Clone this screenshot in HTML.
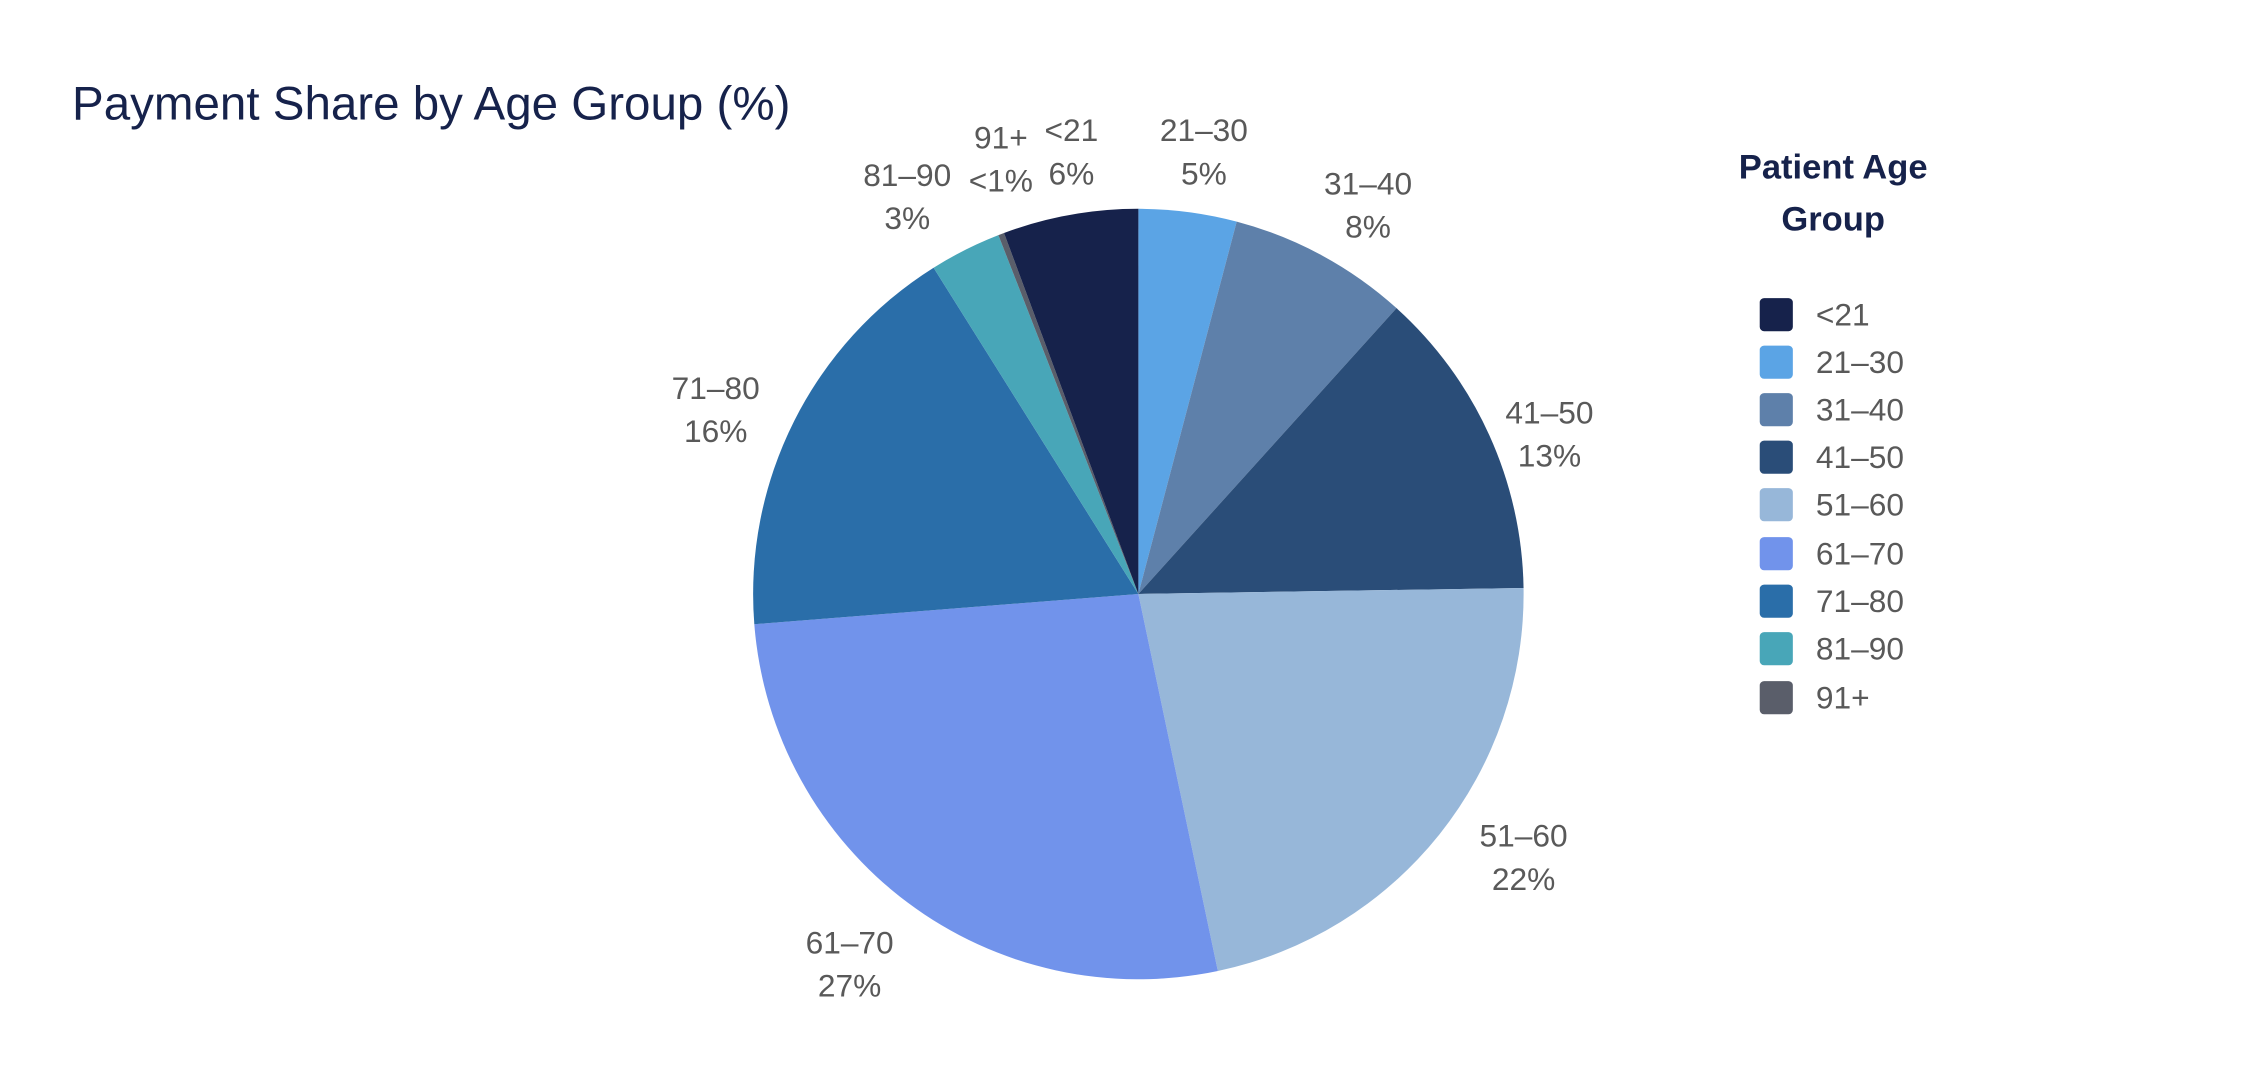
<!DOCTYPE html>
<html><head><meta charset="utf-8"><style>
html,body{margin:0;padding:0;background:#fff;}
svg{display:block;}
text{font-family:"Liberation Sans",sans-serif;}
.l{fill:#595959;font-size:22px;text-anchor:middle;}
.g{fill:#595959;font-size:22px;}
</style></head><body>
<svg width="2258" height="1080" viewBox="0 0 1568 750" xmlns="http://www.w3.org/2000/svg">
<rect width="1568" height="750" fill="#fff"/>
<text x="50" y="83" font-size="33" fill="#16224b">Payment Share by Age Group (%)</text>
<g>
<path d="M790.5,412.5 L790.5,145 A267.5,267.5 0 0 1 858.8,153.9 Z" fill="#5ba4e5"/>
<path d="M790.5,412.5 L858.8,153.9 A267.5,267.5 0 0 1 969.8,214.0 Z" fill="#5e80aa"/>
<path d="M790.5,412.5 L969.8,214.0 A267.5,267.5 0 0 1 1058,408.3 Z" fill="#2a4d78"/>
<path d="M790.5,412.5 L1058,408.3 A267.5,267.5 0 0 1 845.7,674.3 Z" fill="#97b7d9"/>
<path d="M790.5,412.5 L845.7,674.3 A267.5,267.5 0 0 1 523.8,433.5 Z" fill="#7193eb"/>
<path d="M790.5,412.5 L523.8,433.5 A267.5,267.5 0 0 1 648.3,185.9 Z" fill="#2a6ea9"/>
<path d="M790.5,412.5 L648.3,185.9 A267.5,267.5 0 0 1 693.3,163.3 Z" fill="#48a6b8"/>
<path d="M790.5,412.5 L693.3,163.3 A267.5,267.5 0 0 1 697.2,161.8 Z" fill="#5a5e6a"/>
<path d="M790.5,412.5 L697.2,161.8 A267.5,267.5 0 0 1 790.5,145 Z" fill="#16224b"/>
</g>
<text class="l" x="836" y="98">21–30</text><text class="l" x="836" y="128">5%</text>
<text class="l" x="950" y="135">31–40</text><text class="l" x="950" y="165">8%</text>
<text class="l" x="1076" y="294">41–50</text><text class="l" x="1076" y="324">13%</text>
<text class="l" x="1058" y="588">51–60</text><text class="l" x="1058" y="618">22%</text>
<text class="l" x="590" y="662">61–70</text><text class="l" x="590" y="692">27%</text>
<text class="l" x="497" y="277">71–80</text><text class="l" x="497" y="307">16%</text>
<text class="l" x="630" y="129">81–90</text><text class="l" x="630" y="159">3%</text>
<text class="l" x="695" y="103">91+</text><text class="l" x="695" y="133">&lt;1%</text>
<text class="l" x="744" y="98">&lt;21</text><text class="l" x="744" y="128">6%</text>
<text x="1273" y="124" font-size="24" font-weight="bold" fill="#16224b" text-anchor="middle">Patient Age</text>
<text x="1273" y="160" font-size="24" font-weight="bold" fill="#16224b" text-anchor="middle">Group</text>
<g>
<rect x="1222" y="207" width="23" height="23" rx="3" fill="#16224b"/><text class="g" x="1261" y="226">&lt;21</text>
<rect x="1222" y="240" width="23" height="23" rx="3" fill="#5ba4e5"/><text class="g" x="1261" y="259">21–30</text>
<rect x="1222" y="273" width="23" height="23" rx="3" fill="#5e80aa"/><text class="g" x="1261" y="292">31–40</text>
<rect x="1222" y="306" width="23" height="23" rx="3" fill="#2a4d78"/><text class="g" x="1261" y="325">41–50</text>
<rect x="1222" y="339" width="23" height="23" rx="3" fill="#97b7d9"/><text class="g" x="1261" y="358">51–60</text>
<rect x="1222" y="373" width="23" height="23" rx="3" fill="#7193eb"/><text class="g" x="1261" y="392">61–70</text>
<rect x="1222" y="406" width="23" height="23" rx="3" fill="#2a6ea9"/><text class="g" x="1261" y="425">71–80</text>
<rect x="1222" y="439" width="23" height="23" rx="3" fill="#48a6b8"/><text class="g" x="1261" y="458">81–90</text>
<rect x="1222" y="473" width="23" height="23" rx="3" fill="#5a5e6a"/><text class="g" x="1261" y="492">91+</text>
</g>
</svg>
</body></html>
